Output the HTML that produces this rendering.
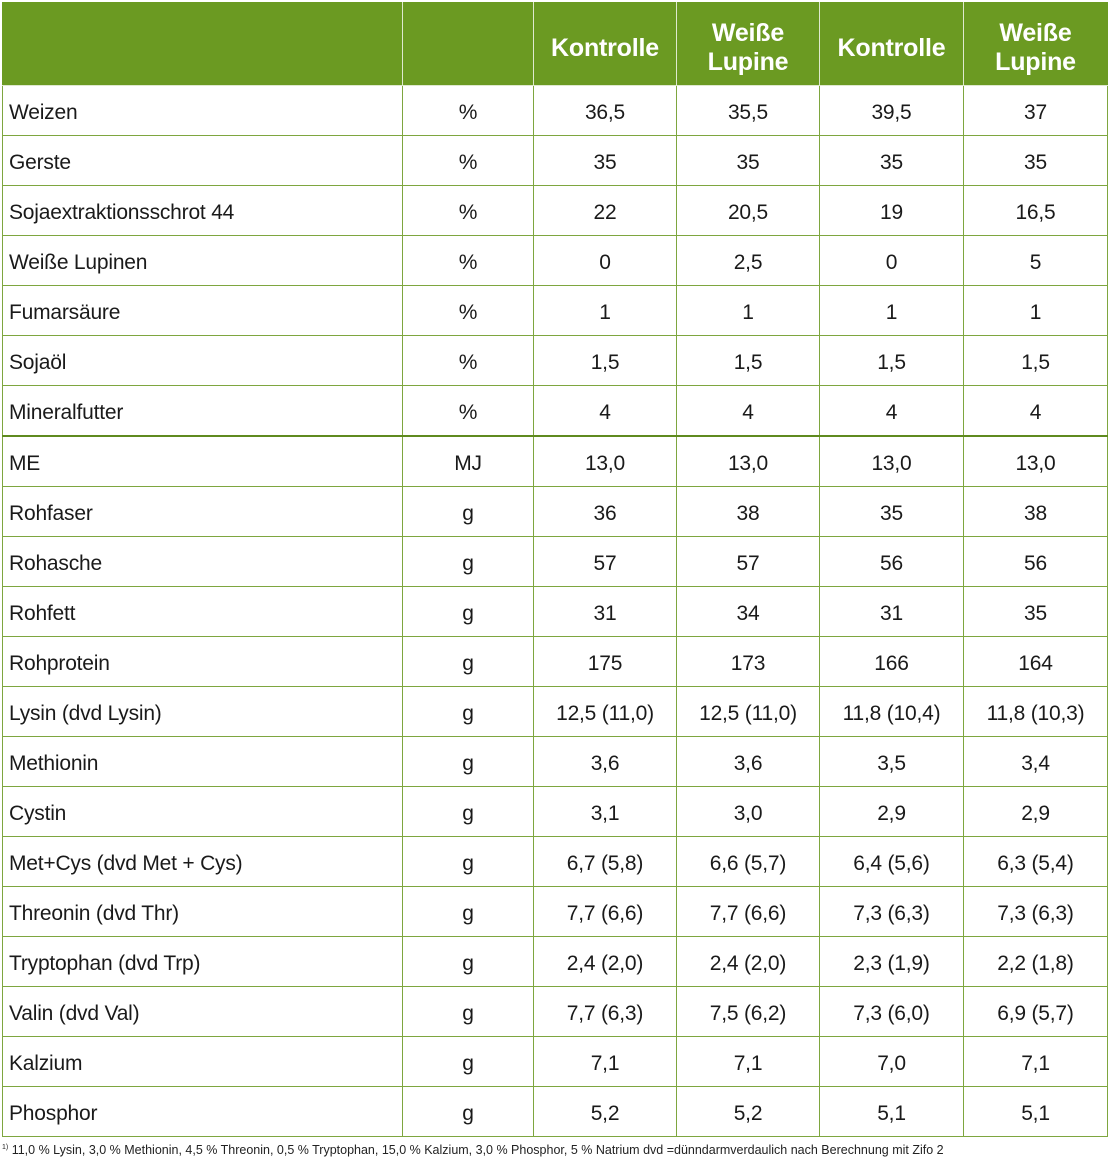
<!DOCTYPE html><html><head><style>
body{margin:0;width:1110px;height:1169px;background:#fff;font-family:"Liberation Sans",sans-serif;position:relative;overflow:hidden}
table{position:absolute;left:2px;top:2px;border-collapse:collapse;table-layout:fixed}
td{border:1.5px solid #7ea63f;height:45px;padding:4px 0 0 0;font-size:21px;color:#1a1a1a;text-align:center;vertical-align:middle;letter-spacing:-0.2px}
td.l{text-align:left;padding-left:6px}
tr.h td{background:#6b9a22;color:#fff;font-weight:bold;font-size:25px;height:74px;padding-top:8px;line-height:29px;border-color:#dfe9cf;border-top-color:#6b9a22}
tr.h td:first-child{border-left-color:#6b9a22}
tr.h td:last-child{border-right-color:#6b9a22}
tr.thick td{border-top:2.5px solid #5f8a1f}
.f{position:absolute;left:2px;top:1143px;font-size:12.5px;color:#222}
</style></head><body>
<table>
<colgroup><col style="width:400px"><col style="width:131px"><col style="width:143px"><col style="width:143px"><col style="width:144px"><col style="width:144px"></colgroup>
<tr class="h"><td></td><td></td><td>Kontrolle</td><td>Weiße<br>Lupine</td><td>Kontrolle</td><td>Weiße<br>Lupine</td></tr>
<tr><td class="l">Weizen</td><td>%</td><td>36,5</td><td>35,5</td><td>39,5</td><td>37</td></tr>
<tr><td class="l">Gerste</td><td>%</td><td>35</td><td>35</td><td>35</td><td>35</td></tr>
<tr><td class="l">Sojaextraktionsschrot 44</td><td>%</td><td>22</td><td>20,5</td><td>19</td><td>16,5</td></tr>
<tr><td class="l">Weiße Lupinen</td><td>%</td><td>0</td><td>2,5</td><td>0</td><td>5</td></tr>
<tr><td class="l">Fumarsäure</td><td>%</td><td>1</td><td>1</td><td>1</td><td>1</td></tr>
<tr><td class="l">Sojaöl</td><td>%</td><td>1,5</td><td>1,5</td><td>1,5</td><td>1,5</td></tr>
<tr><td class="l">Mineralfutter</td><td>%</td><td>4</td><td>4</td><td>4</td><td>4</td></tr>
<tr class="thick"><td class="l">ME</td><td>MJ</td><td>13,0</td><td>13,0</td><td>13,0</td><td>13,0</td></tr>
<tr><td class="l">Rohfaser</td><td>g</td><td>36</td><td>38</td><td>35</td><td>38</td></tr>
<tr><td class="l">Rohasche</td><td>g</td><td>57</td><td>57</td><td>56</td><td>56</td></tr>
<tr><td class="l">Rohfett</td><td>g</td><td>31</td><td>34</td><td>31</td><td>35</td></tr>
<tr><td class="l">Rohprotein</td><td>g</td><td>175</td><td>173</td><td>166</td><td>164</td></tr>
<tr><td class="l">Lysin (dvd Lysin)</td><td>g</td><td>12,5 (11,0)</td><td>12,5 (11,0)</td><td>11,8 (10,4)</td><td>11,8 (10,3)</td></tr>
<tr><td class="l">Methionin</td><td>g</td><td>3,6</td><td>3,6</td><td>3,5</td><td>3,4</td></tr>
<tr><td class="l">Cystin</td><td>g</td><td>3,1</td><td>3,0</td><td>2,9</td><td>2,9</td></tr>
<tr><td class="l">Met+Cys (dvd Met + Cys)</td><td>g</td><td>6,7 (5,8)</td><td>6,6 (5,7)</td><td>6,4 (5,6)</td><td>6,3 (5,4)</td></tr>
<tr><td class="l">Threonin (dvd Thr)</td><td>g</td><td>7,7 (6,6)</td><td>7,7 (6,6)</td><td>7,3 (6,3)</td><td>7,3 (6,3)</td></tr>
<tr><td class="l">Tryptophan (dvd Trp)</td><td>g</td><td>2,4 (2,0)</td><td>2,4 (2,0)</td><td>2,3 (1,9)</td><td>2,2 (1,8)</td></tr>
<tr><td class="l">Valin (dvd Val)</td><td>g</td><td>7,7 (6,3)</td><td>7,5 (6,2)</td><td>7,3 (6,0)</td><td>6,9 (5,7)</td></tr>
<tr><td class="l">Kalzium</td><td>g</td><td>7,1</td><td>7,1</td><td>7,0</td><td>7,1</td></tr>
<tr><td class="l">Phosphor</td><td>g</td><td>5,2</td><td>5,2</td><td>5,1</td><td>5,1</td></tr>
</table>
<div class="f"><sup style="font-size:7px">1)</sup> 11,0 % Lysin, 3,0 % Methionin, 4,5 % Threonin, 0,5 % Tryptophan, 15,0 % Kalzium, 3,0 % Phosphor, 5 % Natrium dvd =dünndarmverdaulich nach Berechnung mit Zifo 2</div>
</body></html>
